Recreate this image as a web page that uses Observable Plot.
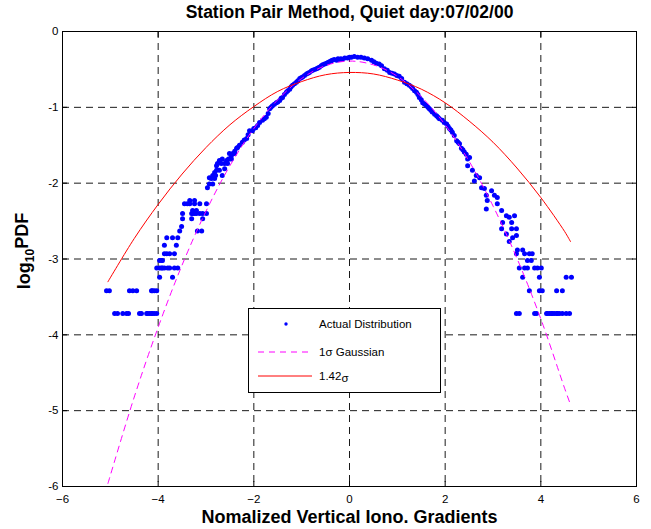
<!DOCTYPE html>
<html><head><meta charset="utf-8">
<script src="https://cdn.jsdelivr.net/npm/d3@7"></script>
<script src="https://cdn.jsdelivr.net/npm/@observablehq/plot@0.6"></script>
<style>
body{margin:0;background:#fff;}
svg{font-family:"Liberation Sans",Arial,Helvetica,sans-serif;}
</style></head><body><div id="chart"></div>
<script>
const titleText = "Station Pair Method, Quiet day:07/02/00";
const xLabelText = "Nomalized Vertical Iono. Gradients";
const yLabelText = "log10PDF";
const xTicks = [-6, -4, -2, 0, 2, 4, 6];
const yTicks = [0, -1, -2, -3, -4, -5, -6];
const xGrid = [-4, -2, 0, 2, 4];
const yGrid = [-1, -2, -3, -4, -5];
const legendLabels = ["Actual Distribution", "1σ Gaussian", "1.42σ"];

// Actual distribution
const actualX = [
  // left tail rows
  -4.91,-4.85,-4.74,-4.66,-4.62,-4.39,-4.35,-4.24,-4.22,-4.18,-4.14,-4.12,-4.08,-4.03,
  -5.08,-5.02,-4.60,-4.53,-4.45,-4.14,-4.12,-4.08,-4.03,
  -4.03,-3.97,-3.93,-3.91,-3.87,-3.80,-3.76,-3.66,-3.59,
  -3.97,-3.93,-3.91,
  -3.97,-3.70,
  -3.87,-3.82,-3.76,-3.66,
  -3.87,-3.62,
  -3.82,-3.70,-3.59,
  -3.55,-3.18,-3.09,
  -3.51,
  -3.49,-3.30,-3.07,
  -3.49,-3.30,-3.28,-3.24,-3.20,-3.13,-3.07,-2.99,
  -3.28,-3.20,
  -3.45,-3.39,-3.34,-3.24,-3.13,-2.99,
  -3.34,-3.24,
  -2.97,
  -2.93,-2.86,
  -2.89,-2.82,
  -2.86,-2.80,-2.66,
  -2.78,-2.72,
  -2.76,-2.68,-2.61,-2.55,
  -2.66,-2.53,-2.47,
  -2.51,-2.40,
  // central band, left
  -2.93,-2.82,-2.78,-2.72,-2.61,-2.57,-2.51,-2.44,-2.36,-2.34,-2.24,-2.15,-2.09,-2.03,-1.96,-1.88,-1.82,-1.74,-1.67,-1.61,-1.53,-1.46,-1.40,-1.32,-1.25,-1.19,-1.11,-1.04,-0.98,-0.90,-0.84,-0.77,-0.69,-0.63,-0.56,-0.48,-0.42,-0.36,-0.27,-0.21,-0.15,-0.04,
  -2.47,-2.40,-2.30,-2.20,-2.12,-2.00,-1.92,-1.78,-1.70,-1.64,-1.57,-1.50,-1.43,-1.36,-1.29,-1.22,-1.15,-1.08,-1.01,-0.94,-0.87,-0.80,-0.73,-0.66,-0.59,-0.52,-0.45,-0.39,-0.32,-0.24,-0.18,-0.10,0.00,
  // central band, right
  0.04,0.17,0.31,0.46,0.56,0.67,0.73,0.84,0.94,1.04,1.15,1.25,1.32,1.40,1.46,1.53,1.61,1.67,1.73,1.82,1.88,1.94,2.03,2.09,2.15,2.24,2.30,2.34,2.40,2.51,
  0.10,0.24,0.38,0.51,0.62,0.79,0.89,0.99,1.09,1.20,1.29,1.36,1.43,1.50,1.57,1.64,1.70,1.78,1.85,1.98,2.06,2.12,2.19,2.27,2.37,2.44,
  // right tail
  2.47,2.47,2.57,2.65,2.72,2.61,2.76,2.82,2.86,2.97,3.03,3.09,2.88,3.09,2.86,3.18,3.28,3.39,3.20,3.34,3.45,3.18,3.39,3.49,3.28,3.41,3.49,3.34,3.51,3.62,3.49,3.66,3.76,3.82,3.72,3.80,
  3.55,3.66,3.72,3.87,3.93,4.01,3.62,3.97,4.53,4.64,3.76,3.97,4.03,4.33,4.45,
  3.49,3.55,3.87,3.91,4.12,4.14,4.18,4.22,4.24,4.28,4.33,4.35,4.39,4.45,4.53,4.60
];
const actualY = [
  -3.72,-3.72,-3.72,-3.72,-3.72,-3.72,-3.72,-3.72,-3.72,-3.72,-3.72,-3.72,-3.72,-3.72,
  -3.42,-3.42,-3.42,-3.42,-3.42,-3.42,-3.42,-3.42,-3.42,
  -3.12,-3.12,-3.12,-3.12,-3.12,-3.12,-3.12,-3.12,-3.12,
  -3.02,-3.02,-3.02,
  -3.24,-3.24,
  -2.93,-2.93,-2.93,-2.93,
  -2.82,-2.82,
  -2.72,-2.72,-2.72,
  -2.63,-2.63,-2.63,
  -2.57,
  -2.47,-2.47,-2.47,
  -2.40,-2.40,-2.40,-2.40,-2.40,-2.40,-2.40,-2.40,
  -2.36,-2.36,
  -2.27,-2.27,-2.27,-2.27,-2.27,-2.27,
  -2.23,-2.23,
  -2.06,
  -2.01,-2.01,
  -1.94,-1.94,
  -1.90,-1.90,-1.90,
  -1.83,-1.83,
  -1.74,-1.74,-1.74,-1.74,
  -1.68,-1.68,-1.68,
  -1.61,-1.61,
  -1.93,-1.86,-1.77,-1.70,-1.81,-1.70,-1.68,-1.61,-1.54,-1.53,-1.46,-1.41,-1.31,-1.31,-1.27,-1.20,-1.17,-1.13,-1.02,-0.98,-0.94,-0.91,-0.87,-0.80,-0.76,-0.71,-0.67,-0.62,-0.60,-0.56,-0.54,-0.51,-0.49,-0.47,-0.44,-0.42,-0.40,-0.38,-0.38,-0.37,-0.37,-0.35,
  -1.64,-1.58,-1.50,-1.43,-1.36,-1.28,-1.24,-1.15,-1.08,-1.00,-0.96,-0.93,-0.88,-0.83,-0.78,-0.73,-0.69,-0.65,-0.61,-0.58,-0.55,-0.52,-0.50,-0.48,-0.45,-0.43,-0.41,-0.39,-0.37,-0.36,-0.36,-0.35,-0.34,
  -0.34,-0.34,-0.35,-0.38,-0.42,-0.45,-0.49,-0.54,-0.56,-0.59,-0.67,-0.71,-0.75,-0.80,-0.87,-0.94,-0.98,-1.02,-1.06,-1.11,-1.15,-1.17,-1.22,-1.28,-1.33,-1.44,-1.48,-1.54,-1.59,-1.66,
  -0.33,-0.34,-0.36,-0.40,-0.43,-0.51,-0.55,-0.58,-0.62,-0.69,-0.73,-0.78,-0.83,-0.90,-0.96,-1.00,-1.04,-1.09,-1.13,-1.20,-1.25,-1.30,-1.37,-1.46,-1.56,-1.62,
  -1.68,-1.77,-1.83,-1.90,-1.93,-1.97,-2.06,-2.07,-2.16,-2.10,-2.16,-2.19,-2.23,-2.27,-2.34,-2.36,-2.43,-2.52,-2.52,-2.45,-2.43,-2.60,-2.60,-2.60,-2.67,-2.72,-2.69,-2.77,-2.88,-2.88,-2.93,-2.93,-2.93,-2.93,-3.02,-3.02,
  -3.12,-3.12,-3.12,-3.12,-3.12,-3.12,-3.24,-3.24,-3.24,-3.24,-3.42,-3.42,-3.42,-3.42,-3.42,
  -3.72,-3.72,-3.72,-3.72,-3.72,-3.72,-3.72,-3.72,-3.72,-3.72,-3.72,-3.72,-3.72,-3.72,-3.72,-3.72
];

// Fitted curves
const curveX   = [-5.05,-4.5,-4,-3.5,-3,-2.5,-2,-1.5,-1,-0.5,0,0.5,1,1.5,2,2.5,3,3.5,4,4.5,4.62];
const gauss1Y  = [-5.96,-4.82,-3.90,-3.08,-2.37,-1.77,-1.28,-0.90,-0.62,-0.45,-0.39,-0.44,-0.59,-0.86,-1.23,-1.71,-2.30,-2.99,-3.79,-4.71,-4.92];
const gauss142Y= [-3.30,-2.73,-2.28,-1.88,-1.53,-1.23,-0.99,-0.79,-0.66,-0.57,-0.54,-0.56,-0.64,-0.76,-0.94,-1.18,-1.46,-1.80,-2.19,-2.64,-2.77];

const actual = actualX.map((x, i) => ({x, y: actualY[i]}));
const curves = curveX.map((x, i) => ({x, g1: gauss1Y[i], g142: gauss142Y[i]}));

const font = "Liberation Sans, Arial, Helvetica, sans-serif";
const chart = Plot.plot({
  width: 651, height: 529,
  marginLeft: 62, marginRight: 15, marginTop: 31, marginBottom: 43,
  style: {fontFamily: font, fontSize: "11px", color: "black", background: "white", overflow: "visible"},
  x: {domain: [-6, 6]},
  y: {domain: [-6, 0]},
  marks: [
    Plot.gridX(xGrid, {stroke: "black", strokeOpacity: 1, strokeWidth: 0.9, strokeDasharray: "7,5"}),
    Plot.gridY(yGrid, {stroke: "black", strokeOpacity: 1, strokeWidth: 0.9, strokeDasharray: "7,5"}),
    Plot.dot(actual, {x: "x", y: "y", r: 2.5, fill: "#0000ff", stroke: null}),
    Plot.line(curves, {x: "x", y: "g1", stroke: "#ff00ff", strokeWidth: 1, strokeDasharray: "6,5", curve: "catmull-rom"}),
    Plot.line(curves, {x: "x", y: "g142", stroke: "#ff0000", strokeWidth: 1, curve: "catmull-rom"}),
    Plot.frame({stroke: "black", strokeWidth: 1}),
    Plot.axisX(xTicks, {anchor: "bottom", tickSize: -5, tickPadding: 13, label: null, fontSize: 11.5}),
    Plot.axisX(xTicks, {anchor: "top", tickSize: -5, tickFormat: () => "", label: null}),
    Plot.axisY(yTicks, {anchor: "left", tickSize: -5, tickPadding: 9, label: null, fontSize: 11.5, tickFormat: d => d === 0 ? "0" : String(d)}),
    Plot.axisY(yTicks, {anchor: "right", tickSize: -5, tickFormat: () => "", label: null}),
    Plot.text([titleText], {text: d => d, frameAnchor: "top", dy: -19, fontSize: 17.5, fontWeight: "bold", lineAnchor: "middle", textAnchor: "middle"}),
    Plot.text([xLabelText], {text: d => d, frameAnchor: "bottom", dy: 31, fontSize: 18, fontWeight: "bold", lineAnchor: "middle", textAnchor: "middle"}),
    Plot.text([yLabelText], {text: d => d, frameAnchor: "left", dx: -38, dy: -8, rotate: -90, fontSize: 18, fontWeight: "bold", lineAnchor: "middle", textAnchor: "middle"})
  ]
});

const svg = d3.select(chart);
// subscript in y label
svg.selectAll("text").filter(function() { return this.textContent === yLabelText; }).each(function() {
  const t = d3.select(this);
  t.text(null);
  t.append("tspan").text("log");
  t.append("tspan").attr("dy", "0.35em").attr("font-size", "12px").text("10");
  t.append("tspan").attr("dy", "-0.35em").text("PDF");
});

// legend
const lg = svg.append("g").attr("font-family", font).attr("font-size", 11.5).attr("text-anchor", "start");
lg.append("rect").attr("x", 248.5).attr("y", 308.5).attr("width", 192).attr("height", 84)
  .attr("fill", "white").attr("stroke", "black").attr("stroke-width", 1);
lg.append("circle").attr("cx", 286).attr("cy", 324).attr("r", 1.7).attr("fill", "#0000ff");
lg.append("line").attr("x1", 258).attr("x2", 312).attr("y1", 352).attr("y2", 352)
  .attr("stroke", "#ff00ff").attr("stroke-dasharray", "6,5");
lg.append("line").attr("x1", 258).attr("x2", 312).attr("y1", 376).attr("y2", 376)
  .attr("stroke", "#ff0000");
lg.append("text").attr("x", 319).attr("y", 328).attr("text-anchor", "start").text(legendLabels[0]);
lg.append("text").attr("x", 319).attr("y", 356).attr("text-anchor", "start").text(legendLabels[1]);
const t3 = lg.append("text").attr("x", 319).attr("y", 380).attr("text-anchor", "start");
t3.append("tspan").text("1.42");
t3.append("tspan").attr("dy", 2).text("σ");

document.getElementById("chart").appendChild(chart);
</script></body></html>
